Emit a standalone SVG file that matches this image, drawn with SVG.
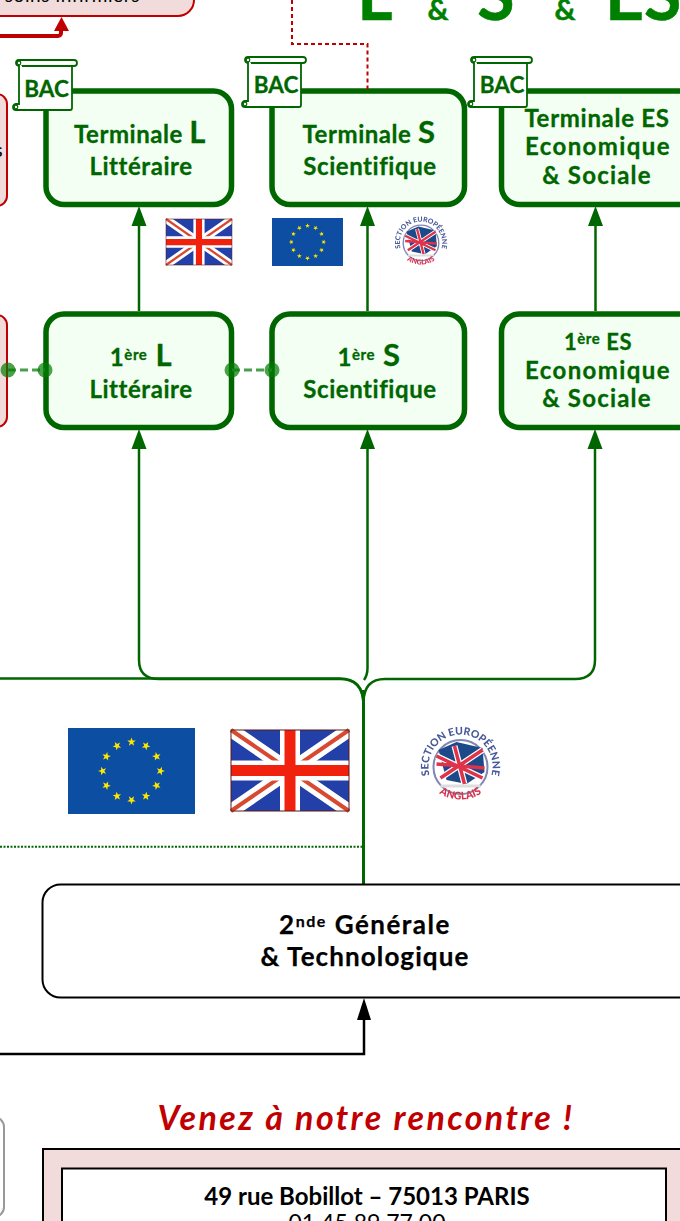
<svg xmlns="http://www.w3.org/2000/svg" xmlns:xlink="http://www.w3.org/1999/xlink" width="680" height="1221" viewBox="0 0 680 1221">
<style>
.g{fill:#f3fff3;stroke:#006600;stroke-width:5.500}
.p{fill:#f2dcdb;stroke:#c00000;stroke-width:2}
.t{font-family:"Lato","Noto Sans",sans-serif;font-weight:700;fill:#006600;stroke:#006600;stroke-width:.3;text-anchor:middle;font-size:24px;letter-spacing:.55px}
.wide{letter-spacing:1.400px}
.soc{letter-spacing:1.200px}
.k{font-family:"Lato","Noto Sans",sans-serif;font-weight:700;fill:#000;stroke:#000;stroke-width:.25;text-anchor:middle;font-size:26px;letter-spacing:1.100px}
.big{font-family:"Lato","Noto Sans",sans-serif;font-weight:700;fill:#008000;stroke:#008000;stroke-width:.5;text-anchor:middle}
.c{fill:none;stroke:#006600;stroke-width:2.500}
.s{fill:#fff;stroke:#006600;stroke-width:1.800}
.b{font-family:"Lato","Noto Sans",sans-serif;font-weight:700;fill:#006600;stroke:#006600;stroke-width:.3;font-size:22.500px;text-anchor:middle}
.d{fill:#007a00;fill-opacity:.7}
.star{fill:#ffe600}
</style>
<defs>
<filter id="soft" x="-5%" y="-5%" width="110%" height="110%"><feGaussianBlur stdDeviation=".5"/></filter>
<g id="scroll">
<path class="s" d="M5,5H60a2.500,2.500 0 0 1 0,6H5a3,3 0 0 1 0,-6z"/>
<path class="s" d="M5,8V49H2a3,3 0 0 0 0,6H56a2,2 0 0 0 2,-2V11H8"/>
<circle cx="5" cy="8" r="1.800" fill="#fff" stroke="#006600" stroke-width="1.200"/>
<circle cx="2" cy="52" r="1.800" fill="#fff" stroke="#006600" stroke-width="1.200"/>
</g>
<g id="uk">
<rect width="118" height="81" fill="#2040a8"/>
<path d="M0,0L118,81M118,0L0,81" stroke="#fff" stroke-width="14"/>
<path d="M0,0L118,81M118,0L0,81" stroke="#d84a30" stroke-width="4"/>
<path d="M59,0V81M0,40.500H118" stroke="#fff" stroke-width="20"/>
<path d="M59,0V81M0,40.500H118" stroke="#f02010" stroke-width="11"/>
<rect width="118" height="81" fill="none" stroke="#5a1a1a" stroke-width="1"/>
</g>
<g id="eu">
<rect width="127" height="86" fill="#0b4ea2"/>
<g class="star">
<path id="st" d="M63.500,9.500L64.560,12.540L67.780,12.610L65.210,14.560L66.140,17.640L63.500,15.800L60.860,17.640L61.790,14.560L59.220,12.610L62.440,12.540z"/>
<use xlink:href="#st" transform="rotate(30 63.500 43)"/>
<use xlink:href="#st" transform="rotate(60 63.500 43)"/>
<use xlink:href="#st" transform="rotate(90 63.500 43)"/>
<use xlink:href="#st" transform="rotate(120 63.500 43)"/>
<use xlink:href="#st" transform="rotate(150 63.500 43)"/>
<use xlink:href="#st" transform="rotate(180 63.500 43)"/>
<use xlink:href="#st" transform="rotate(210 63.500 43)"/>
<use xlink:href="#st" transform="rotate(240 63.500 43)"/>
<use xlink:href="#st" transform="rotate(270 63.500 43)"/>
<use xlink:href="#st" transform="rotate(300 63.500 43)"/>
<use xlink:href="#st" transform="rotate(330 63.500 43)"/>
</g>
</g>
<path id="ring" d="M-30.600,12A32,32 0 1 1 30.600,12"/>
<path id="ringb" d="M-24,27A38,38 0 0 0 24,27"/>
<g id="logo">
<circle cy="3" r="27" fill="#fff" stroke="#7f86b5" stroke-width="2"/>
<path d="M-22,-14L-4,-22L22,-16L24,8L6,20L-14,16z" fill="#1f4a8a"/>
<path d="M-24,-8L22,14M-20,14L22,-14M-6,-18L4,20" stroke="#fff" stroke-width="6"/>
<path d="M-24,-8L22,14M-20,14L22,-14M-6,-18L4,20M-24,0L24,4" stroke="#e0304a" stroke-width="3.500"/>
<path d="M-20,22H20" stroke="#ddd" stroke-width="3"/>
<text font-family="Lato,sans-serif" font-size="10.500" font-weight="900" fill="#4a5a9a" text-anchor="middle"><textPath xlink:href="#ring" startOffset="50%">SECTION EUROPÉENNE</textPath></text>
<text font-family="Lato,sans-serif" font-size="10.500" font-weight="900" fill="#d8304a" text-anchor="middle"><textPath xlink:href="#ringb" startOffset="50%">ANGLAIS</textPath></text>
</g>
</defs>
<rect width="680" height="1221" fill="#fff"/>

<g id="title">
<text class="big" x="375" y="20" font-size="68">L</text>
<text class="big" x="438" y="20" font-size="29">&amp;</text>
<text class="big" x="496" y="20" font-size="68">S</text>
<text class="big" x="565" y="20" font-size="29">&amp;</text>
<text class="big" x="605" y="20" font-size="68" style="text-anchor:start">ES</text>
</g>

<g id="n-soins"><rect class="p" x="-30" y="-40" width="224" height="56" rx="16"/><text x="140" y="2" font-family="Lato,sans-serif" font-size="19" letter-spacing=".6" fill="#000" text-anchor="end">soins infirmiers</text></g>
<g id="n-left-t"><rect class="p" x="-30" y="94" width="37" height="112" rx="10"/><text x="-6" y="157" font-family="Lato,sans-serif" font-size="20" fill="#000">s</text></g>
<g id="n-left-1"><rect class="p" x="-30" y="315" width="37" height="112" rx="10"/></g>

<g id="n-tl"><rect class="g" x="46" y="91" width="185.500" height="113.500" rx="18"/>
<text class="t" x="140" y="143">Terminale <tspan font-size="31" font-weight="700">L</tspan></text>
<text class="t" x="141" y="175">Littéraire</text></g>
<g id="n-ts"><rect class="g" x="272" y="91" width="192.500" height="113.500" rx="18"/>
<text class="t" x="369" y="143">Terminale <tspan font-size="31">S</tspan></text>
<text class="t" x="370" y="175">Scientifique</text></g>
<g id="n-tes"><rect class="g" x="501.500" y="91" width="195" height="113.500" rx="18"/>
<text class="t" x="597" y="127" style="letter-spacing:.7px">Terminale ES</text>
<text class="t wide" x="598" y="155">Economique</text>
<text class="t soc" x="597" y="184">&amp; Sociale</text></g>

<g id="n-1l"><rect class="g" x="46" y="314" width="185.500" height="113.500" rx="18"/>
<text class="t" x="141" y="366">1<tspan font-size="15" dy="-6">ère</tspan><tspan font-size="31" dy="6"> L</tspan></text>
<text class="t" x="141" y="398">Littéraire</text></g>
<g id="n-1s"><rect class="g" x="272" y="314" width="192.500" height="113.500" rx="18"/>
<text class="t" x="369" y="366">1<tspan font-size="15" dy="-6">ère</tspan><tspan font-size="31" dy="6"> S</tspan></text>
<text class="t" x="370" y="398">Scientifique</text></g>
<g id="n-1es"><rect class="g" x="501.500" y="314" width="195" height="113.500" rx="18"/>
<text class="t" x="598" y="350" style="font-size:22px">1<tspan font-size="15" dy="-6">ère</tspan><tspan dy="6"> ES</tspan></text>
<text class="t wide" x="598" y="379">Economique</text>
<text class="t soc" x="597" y="407">&amp; Sociale</text></g>

<g id="connectors">
<path d="M292,0V44H367.500V90" fill="none" stroke="#c00000" stroke-width="2" stroke-dasharray="4 3"/>
<path d="M0,36H58a3,3 0 0 0 3,-3V30" fill="none" stroke="#c00000" stroke-width="4"/>
<path d="M54,31L61.500,17L69,31z" fill="#c00000"/>
<path class="c" d="M139,311V224"/>
<path class="c" d="M367.500,311V224"/>
<path class="c" d="M595.500,311V224"/>
<path class="c" d="M139,447V660Q139,679 159,679H340Q363,679 363.500,704"/>
<path class="c" d="M367.500,447V668Q367.500,675 364,680"/>
<path class="c" d="M595,447V660Q595,679 575,679H385Q364,679 363.500,702"/>
<path class="c" d="M0,678.500H340Q363,678.500 363.500,704"/>
<path d="M363.500,690V884" fill="none" stroke="#006600" stroke-width="3"/>
<path d="M0,846.700H362" fill="none" stroke="#006600" stroke-width="2" stroke-dasharray="2 1.500"/>
<path d="M0,1054H364V1018" fill="none" stroke="#000" stroke-width="2.500"/>
<path d="M357,1020L364,998L371,1020z" fill="#000"/>
<path d="M8,370H45M232,370H272" fill="none" stroke="#4aa04a" stroke-width="3" stroke-dasharray="8 4"/>
<path d="M131.500,226L139,206L146.500,226zM360,226L367.500,206L375,226zM588,226L595.500,206L603,226zM131.500,449L139,429L146.500,449zM360,449L367.500,429L375,449zM587.500,449L595,429L602.500,449z" fill="#006600"/>
</g>

<g id="dots">
<circle class="d" cx="8" cy="370" r="7.500"/><circle class="d" cx="45" cy="370" r="7.500"/>
<circle class="d" cx="232" cy="370" r="7.500"/><circle class="d" cx="272" cy="370" r="7.500"/>
</g>

<g id="bac-l"><use xlink:href="#scroll" transform="translate(14,55)"/><text class="b" x="46.500" y="97">BAC</text></g>
<g id="bac-s"><use xlink:href="#scroll" transform="translate(243,52)"/><text class="b" x="276" y="93">BAC</text></g>
<g id="bac-es"><use xlink:href="#scroll" transform="translate(469,52)"/><text class="b" x="502" y="93">BAC</text></g>

<g id="flags">
<use xlink:href="#uk" transform="translate(166,219) scale(.559,.568)" filter="url(#soft)"/>
<use xlink:href="#eu" transform="translate(272,218) scale(.559,.558)" filter="url(#soft)"/>
<use xlink:href="#logo" transform="translate(421,241) scale(.66)" filter="url(#soft)"/>
<use xlink:href="#eu" transform="translate(68,728)"/>
<use xlink:href="#uk" transform="translate(231,730)" filter="url(#soft)"/>
<use xlink:href="#logo" transform="translate(460.500,764)" filter="url(#soft)"/>
</g>

<g id="n-2nde"><rect x="42.500" y="884.500" width="660" height="113" rx="18" fill="#fff" stroke="#000" stroke-width="2"/>
<text class="k" x="365" y="934" style="letter-spacing:1.500px">2<tspan font-size="16" dy="-7">nde</tspan><tspan dy="7"> Générale</tspan></text>
<text class="k" x="365" y="966">&amp; Technologique</text></g>

<g id="n-gray"><rect x="-30" y="1117" width="34" height="100" rx="10" fill="#fff" stroke="#999" stroke-width="2"/></g>

<text id="venez" x="366" y="1130" font-family="Lato,sans-serif" font-weight="700" font-style="italic" font-size="34" letter-spacing="2.400" fill="#c00000" text-anchor="middle">Venez à notre rencontre !</text>
<g id="n-adresse">
<rect x="43" y="1149" width="660" height="100" fill="#f2dcdb" stroke="#000" stroke-width="2"/>
<rect x="62" y="1168.500" width="604" height="80" fill="#fff" stroke="#000" stroke-width="2"/>
<text x="367" y="1205" font-family="Lato,sans-serif" font-weight="700" font-size="24" fill="#000" text-anchor="middle">49 rue Bobillot – 75013 PARIS</text>
<text x="367" y="1231" font-family="Lato,sans-serif" font-size="23" fill="#000" text-anchor="middle">01 45 89 77 00</text>
</g>
</svg>
